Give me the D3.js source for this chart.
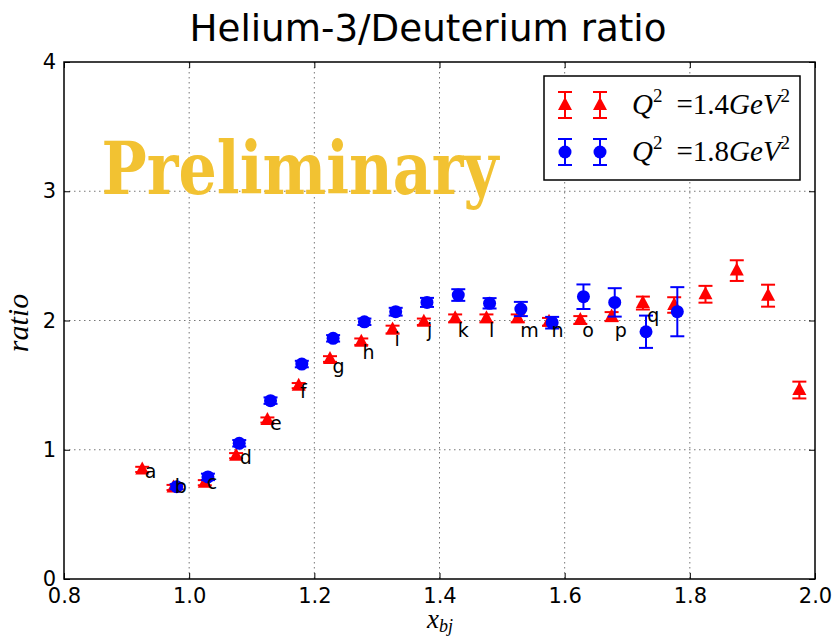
<!DOCTYPE html>
<html>
<head>
<meta charset="utf-8">
<script src="https://cdn.jsdelivr.net/npm/d3@7"></script>
<style>
  body { margin: 0; background: #fff; }
  svg { display: block; }
</style>
</head>
<body>
<div id="chart"></div>
<script>
// Q^2 = 1.4 GeV^2 (red triangles)
var redX = [0.925, 0.975, 1.025, 1.075, 1.125, 1.175, 1.225, 1.275, 1.325, 1.375, 1.425,
            1.475, 1.525, 1.575, 1.625, 1.675, 1.725, 1.775, 1.825, 1.875, 1.925, 1.975];
var redY = [0.848, 0.708, 0.745, 0.954, 1.23, 1.496, 1.702, 1.836, 1.93, 1.99, 2.017,
            2.017, 2.017, 1.99, 2.004, 2.03, 2.135, 2.12, 2.203, 2.386, 2.192, 1.462];
var redErr = [0.02, 0.02, 0.02, 0.02, 0.02, 0.02, 0.022, 0.025, 0.03, 0.025, 0.03,
              0.03, 0.03, 0.03, 0.03, 0.035, 0.05, 0.06, 0.065, 0.08, 0.085, 0.065];

// Q^2 = 1.8 GeV^2 (blue circles)
var blueX = [0.98, 1.03, 1.08, 1.13, 1.18, 1.23, 1.28, 1.33, 1.38, 1.43, 1.48,
             1.53, 1.58, 1.63, 1.68, 1.73, 1.78];
var blueY = [0.714, 0.79, 1.05, 1.38, 1.663, 1.862, 1.99, 2.068, 2.14, 2.197, 2.133,
             2.089, 1.983, 2.184, 2.14, 1.913, 2.068];
var blueErr = [0.02, 0.025, 0.025, 0.025, 0.025, 0.025, 0.025, 0.03, 0.035, 0.045, 0.04,
               0.055, 0.045, 0.095, 0.11, 0.125, 0.19];

// bin labels
var binNames = ["a", "b", "c", "d", "e", "f", "g", "h", "i", "j", "k", "l", "m", "n", "o", "p", "q"];
var binLabelX = [0.929, 0.977, 1.028, 1.081, 1.129, 1.177, 1.229, 1.277, 1.328, 1.38, 1.429,
                 1.479, 1.529, 1.579, 1.628, 1.68, 1.732];
var binLabelY = [0.78, 0.667, 0.70, 0.89, 1.155, 1.40, 1.59, 1.705, 1.806, 1.87, 1.87,
                 1.87, 1.87, 1.87, 1.87, 1.875, 1.99];

var xTicks = [0.8, 1.0, 1.2, 1.4, 1.6, 1.8, 2.0];
var yTicks = [0, 1, 2, 3, 4];

var W = 836, H = 640;
var margin = {top: 62, right: 21, bottom: 61, left: 64},
    width = W - margin.left - margin.right,
    height = H - margin.top - margin.bottom;

var svgRoot = d3.select("#chart")
    .append("svg")
    .attr("width", W)
    .attr("height", H);

var svg = svgRoot.append("g")
    .attr("transform", "translate(" + margin.left + "," + margin.top + ")");

var x = d3.scaleLinear().domain([0.8, 2.0]).range([0, width]);
var y = d3.scaleLinear().domain([0, 4]).range([height, 0]);

// grid
svg.append("g")
    .selectAll("line")
    .data(xTicks.slice(1, -1))
    .enter()
    .append("line")
    .attr("x1", function (d) { return x(d); })
    .attr("x2", function (d) { return x(d); })
    .attr("y1", 0)
    .attr("y2", height)
    .attr("stroke", "#777")
    .attr("stroke-width", 1)
    .attr("stroke-dasharray", "1.5,3.5");
svg.append("g")
    .selectAll("line")
    .data(yTicks.slice(1, -1))
    .enter()
    .append("line")
    .attr("x1", 0)
    .attr("x2", width)
    .attr("y1", function (d) { return y(d); })
    .attr("y2", function (d) { return y(d); })
    .attr("stroke", "#777")
    .attr("stroke-width", 1)
    .attr("stroke-dasharray", "1.5,3.5");

// axes, ticks pointing inwards
var fontTick = "'DejaVu Sans', sans-serif";
svg.append("g")
    .attr("transform", "translate(0," + height + ")")
    .call(d3.axisBottom(x).tickValues(xTicks).tickFormat(d3.format(".1f")).tickSize(-6).tickPadding(9));
svg.append("g")
    .call(d3.axisLeft(y).tickValues(yTicks).tickFormat(d3.format("d")).tickSize(-6).tickPadding(8));
svg.append("g")
    .call(d3.axisTop(x).tickValues(xTicks).tickFormat("").tickSize(-6));
svg.append("g")
    .attr("transform", "translate(" + width + ",0)")
    .call(d3.axisRight(y).tickValues(yTicks).tickFormat("").tickSize(-6));
svg.selectAll(".domain").remove();
svg.selectAll(".tick line").attr("stroke", "#000").attr("stroke-width", 1);
svg.selectAll(".tick text")
    .style("font-family", fontTick)
    .style("font-size", "21px")
    .attr("fill", "#000");

// frame
svg.append("rect")
    .attr("x", 0).attr("y", 0)
    .attr("width", width).attr("height", height)
    .attr("fill", "none")
    .attr("stroke", "#000")
    .attr("stroke-width", 1.5);

// Preliminary watermark
svg.append("text")
    .attr("x", x(0.86))
    .attr("y", y(2.98))
    .attr("textLength", 397)
    .attr("lengthAdjust", "spacingAndGlyphs")
    .style("font-family", "'DejaVu Serif', serif")
    .style("font-weight", "bold")
    .style("font-size", "72px")
    .attr("fill", "#f2c232")
    .text("Preliminary");

var red = "#ff0000", blue = "#0000ff";
var triPath = "M0,-8L7,5L-7,5Z";

function errorBars(g, xs, ys, es, color) {
    var sel = g.selectAll("g.eb")
        .data(xs.map(function (d, i) { return {x: d, y: ys[i], e: es[i]}; }))
        .enter()
        .append("g")
        .attr("class", "eb");
    sel.append("line")
        .attr("x1", function (d) { return x(d.x); })
        .attr("x2", function (d) { return x(d.x); })
        .attr("y1", function (d) { return y(d.y - d.e); })
        .attr("y2", function (d) { return y(d.y + d.e); })
        .attr("stroke", color).attr("stroke-width", 2);
    [-1, 1].forEach(function (s) {
        sel.append("line")
            .attr("x1", function (d) { return x(d.x) - 7; })
            .attr("x2", function (d) { return x(d.x) + 7; })
            .attr("y1", function (d) { return y(d.y + s * d.e); })
            .attr("y2", function (d) { return y(d.y + s * d.e); })
            .attr("stroke", color).attr("stroke-width", 2);
    });
}

// red series
var gRed = svg.append("g");
errorBars(gRed, redX, redY, redErr, red);
gRed.selectAll("path.tri")
    .data(redX)
    .enter()
    .append("path")
    .attr("class", "tri")
    .attr("d", triPath)
    .attr("transform", function (d, i) { return "translate(" + x(d) + "," + y(redY[i]) + ")"; })
    .attr("fill", red);

// blue series
var gBlue = svg.append("g");
errorBars(gBlue, blueX, blueY, blueErr, blue);
gBlue.selectAll("circle")
    .data(blueX)
    .enter()
    .append("circle")
    .attr("cx", function (d) { return x(d); })
    .attr("cy", function (d, i) { return y(blueY[i]); })
    .attr("r", 6.5)
    .attr("fill", blue);

// bin letters
svg.append("g")
    .selectAll("text")
    .data(binNames)
    .enter()
    .append("text")
    .attr("x", function (d, i) { return x(binLabelX[i]); })
    .attr("y", function (d, i) { return y(binLabelY[i]); })
    .style("font-family", fontTick)
    .style("font-size", "19px")
    .attr("fill", "#000")
    .text(function (d) { return d; });

// legend
var legend = svgRoot.append("g");
legend.append("rect")
    .attr("x", 544).attr("y", 76)
    .attr("width", 256).attr("height", 104)
    .attr("fill", "#fff")
    .attr("stroke", "#000")
    .attr("stroke-width", 1.5);
var legendItems = [
    {color: red, shape: "tri", val: "1.4", cy: 105},
    {color: blue, shape: "circ", val: "1.8", cy: 152}
];
legendItems.forEach(function (it) {
    [565, 600].forEach(function (cx) {
        legend.append("line")
            .attr("x1", cx).attr("x2", cx)
            .attr("y1", it.cy - 13).attr("y2", it.cy + 13)
            .attr("stroke", it.color).attr("stroke-width", 2);
        [-13, 13].forEach(function (o) {
            legend.append("line")
                .attr("x1", cx - 7).attr("x2", cx + 7)
                .attr("y1", it.cy + o).attr("y2", it.cy + o)
                .attr("stroke", it.color).attr("stroke-width", 2);
        });
        if (it.shape == "tri") {
            legend.append("path")
                .attr("d", triPath)
                .attr("transform", "translate(" + cx + "," + it.cy + ")")
                .attr("fill", it.color);
        } else {
            legend.append("circle")
                .attr("cx", cx).attr("cy", it.cy).attr("r", 6.5)
                .attr("fill", it.color);
        }
    });
    var t = legend.append("text")
        .attr("x", 632)
        .attr("y", it.cy + 9)
        .style("font-family", "'Liberation Serif', serif")
        .style("font-size", "29px")
        .attr("fill", "#000");
    t.append("tspan").style("font-style", "italic").text("Q");
    t.append("tspan").attr("dy", -12).style("font-size", "19px").text("2");
    t.append("tspan").attr("dy", 12).attr("dx", 14).text("=" + it.val);
    t.append("tspan").style("font-style", "italic").text("GeV");
    t.append("tspan").attr("dy", -12).style("font-size", "19px").text("2");
});

// title
svgRoot.append("text")
    .attr("x", 428)
    .attr("y", 41)
    .attr("text-anchor", "middle")
    .attr("textLength", 477)
    .attr("lengthAdjust", "spacingAndGlyphs")
    .style("font-family", fontTick)
    .style("font-size", "38px")
    .attr("fill", "#000")
    .text("Helium-3/Deuterium ratio");

// axis labels
var xl = svgRoot.append("text")
    .attr("x", 440)
    .attr("y", 628)
    .attr("text-anchor", "middle")
    .style("font-family", "'Liberation Serif', serif")
    .style("font-style", "italic")
    .style("font-size", "27px")
    .attr("fill", "#000");
xl.append("tspan").text("x");
xl.append("tspan").attr("dy", 4).style("font-size", "18px").text("bj");

svgRoot.append("text")
    .attr("transform", "translate(28,323)rotate(-90)")
    .attr("text-anchor", "middle")
    .style("font-family", "'Liberation Serif', serif")
    .style("font-style", "italic")
    .style("font-size", "30px")
    .attr("fill", "#000")
    .text("ratio");
</script>
</body>
</html>
